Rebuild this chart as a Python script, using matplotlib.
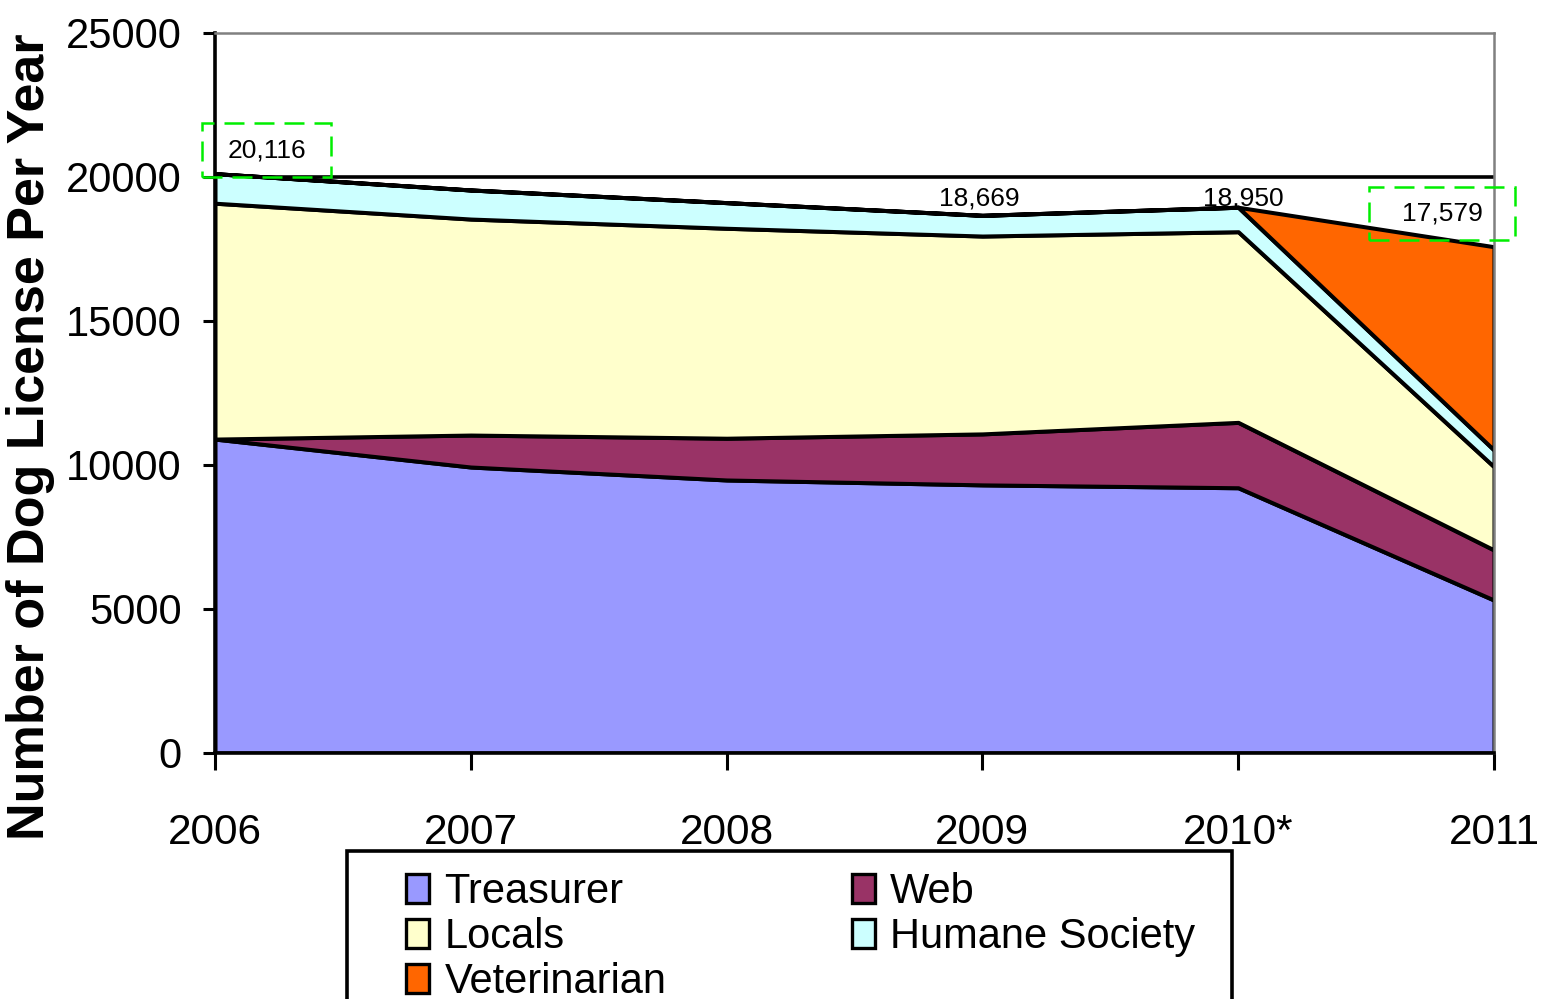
import matplotlib
matplotlib.use("Agg")
import matplotlib.pyplot as plt
from matplotlib import font_manager
from matplotlib.patches import Rectangle, Patch

names = {f.name for f in font_manager.fontManager.ttflist}
REG = "Liberation Sans" if "Liberation Sans" in names else "DejaVu Sans"

# ---- data ----
years = ["2006", "2007", "2008", "2009", "2010*", "2011"]
series_names = ["Treasurer", "Web", "Locals", "Humane Society", "Veterinarian"]
treasurer = [10900, 9930, 9480, 9310, 9210, 5310]
web = [0, 1110, 1450, 1770, 2270, 1740]
locals_ = [8190, 7500, 7290, 6870, 6620, 2890]
humane = [1026, 1009, 890, 719, 850, 580]
veterinarian = [0, 0, 0, 0, 0, 7059]
colors = ["#9999FF", "#993366", "#FFFFCC", "#CCFFFF", "#FF6600"]
totals_labelled = {0: "20,116", 3: "18,669", 4: "18,950", 5: "17,579"}
yticks = [0, 5000, 10000, 15000, 20000, 25000]

W, H = 1541, 999
fig = plt.figure(figsize=(W/100, H/100), dpi=100)
ax = fig.add_axes([215/W, 1-753/H, (1494-215)/W, (753-33)/H])

x = list(range(len(years)))
ax.stackplot(x, treasurer, web, locals_, humane, veterinarian, colors=colors,
             edgecolor="black", linewidth=2.9, zorder=2)
ax.axhline(20000, color="black", lw=2.6, zorder=1)

ax.set_xlim(0, len(years) - 1)
ax.set_ylim(0, 25000)
ax.set_xticks(x)
ax.set_xticklabels(years, fontfamily=REG, fontsize=30.5)
ax.set_yticks(yticks)
ax.set_yticklabels([str(v) for v in yticks], fontfamily=REG, fontsize=30)
ax.tick_params(axis="y", direction="out", length=9, width=2.2, pad=15)
ax.tick_params(axis="x", direction="out", length=12, width=2.2, pad=31)
for s in ["left", "bottom"]:
    ax.spines[s].set_color("black")
    ax.spines[s].set_linewidth(2.6)
for s in ["top", "right"]:
    ax.spines[s].set_color("#808080")
    ax.spines[s].set_linewidth(1.8)

fig.text(31/W, 1-437/H, "Number of Dog License Per Year", rotation=90,
         ha="center", va="center", fontsize=37.5, fontweight="bold", fontfamily=REG)

totals = [a+b+c+d+e for a, b, c, d, e in zip(treasurer, web, locals_, humane, veterinarian)]
offsets = {0: (0.203, 820), 3: (-0.013, 600), 4: (0.019, 320), 5: (-0.2, 1140)}
for i, txt in totals_labelled.items():
    dx, dy = offsets[i]
    ax.text(x[i] + dx, totals[i] + dy, txt, ha="center", va="center",
            fontsize=19, fontfamily=REG, zorder=5, clip_on=False)

# green dashed highlight boxes
for (x0, y0, w, h) in [(-0.05, 20000, 0.503, 1875), (4.511, 17812, 0.571, 1841)]:
    ax.add_patch(Rectangle((x0, y0), w, h, fill=False, edgecolor="#00EE00",
                           linestyle=(0, (8, 4)), lw=1.8, clip_on=False, zorder=6))

# legend (frame drawn separately to match the wide padding)
handles = [Patch(facecolor=c, edgecolor="black", lw=2.4) for c in colors]
order = [0, 2, 4, 1, 3]
leg = fig.legend([handles[i] for i in order], [series_names[i] for i in order],
                 ncol=2, loc="upper left", bbox_to_anchor=(406/W, 1-872/H),
                 borderaxespad=0, frameon=False,
                 prop={"family": REG, "size": 30}, handlelength=0.55, handleheight=0.7,
                 handletextpad=0.37, columnspacing=4.45, labelspacing=0.12, borderpad=0)
fig.add_artist(Rectangle((347/W, 1-1010/H), (1232-347)/W, (1010-851)/H,
                         transform=fig.transFigure, fill=False, edgecolor="black",
                         lw=2.6, clip_on=False))

fig.savefig("out.png", dpi=100)
